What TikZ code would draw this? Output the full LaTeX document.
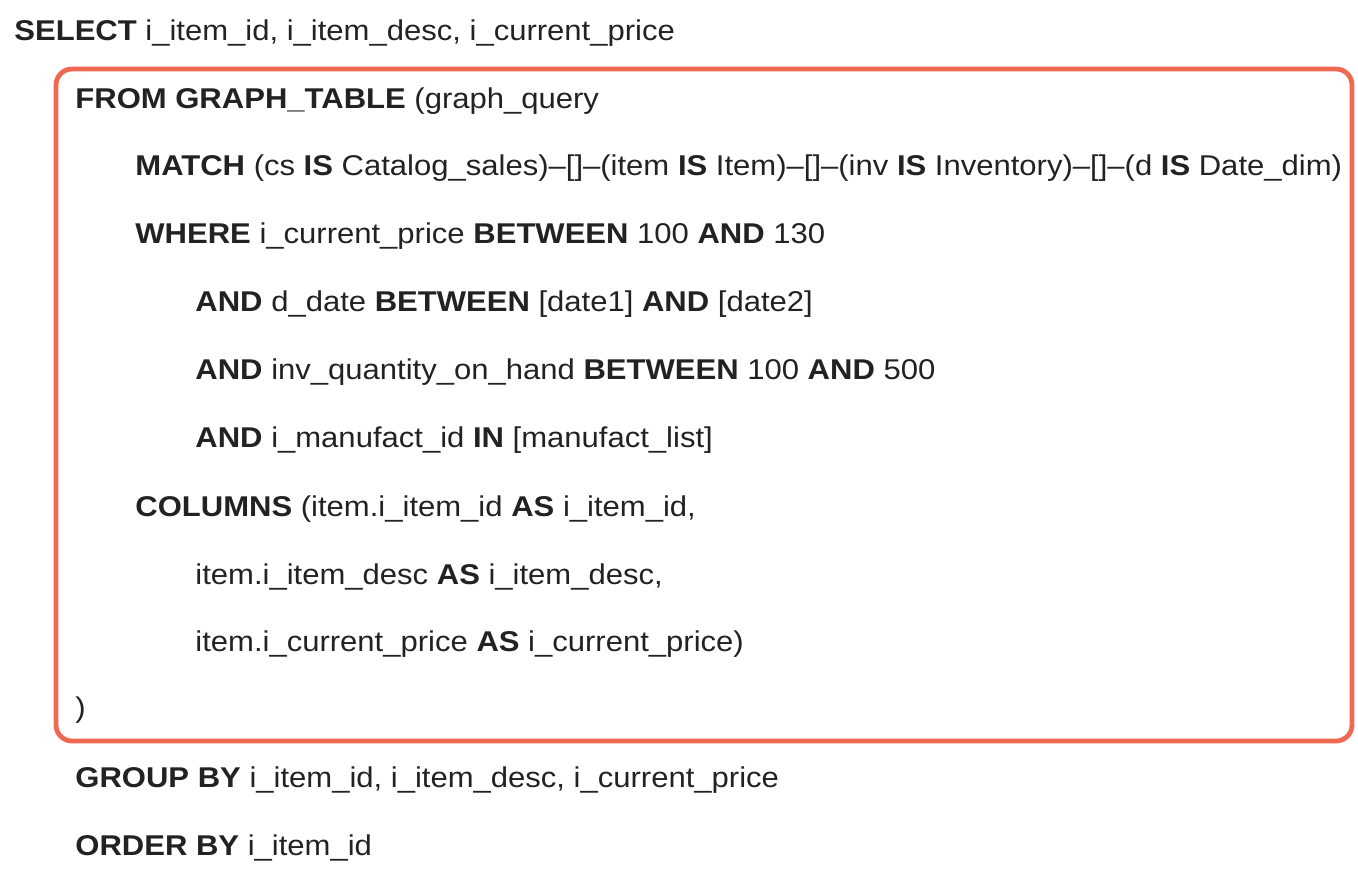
\documentclass[tikz,border=0pt]{standalone}
\usepackage{fontspec}
\setmainfont{Liberation Sans}[FakeStretch=1.085]
\definecolor{sqltext}{HTML}{222222}
\definecolor{frame}{HTML}{EE6852}
\newcommand{\kw}[1]{\textbf{#1}}
\begin{document}
\begin{tikzpicture}[x=0.5pt,y=-0.5pt,line join=round,line cap=round]
	\tikzset{every node/.style={anchor=base west,inner sep=0pt,text=sqltext,font=\fontsize{14.3pt}{16pt}\selectfont}}
	\useasboundingbox (0,0) rectangle (1358,876);
	% frame round the graph query
	\draw[frame,line width=2.4pt,rounded corners=8pt] (56,69) rectangle (1352,741);
	\node (sel) at (14,41) {\kw{SELECT} i\_item\_id, i\_item\_desc, i\_current\_price};
	\node (from) at (75,109) {\kw{FROM GRAPH\_TABLE} (graph\_query};
	\node (match) at (135,176) {\kw{MATCH} (cs \kw{IS} Catalog\_sales)–[]–(item \kw{IS} Item)–[]–(inv \kw{IS} Inventory)–[]–(d \kw{IS} Date\_dim)};
	\node (where) at (135,244) {\kw{WHERE} i\_current\_price \kw{BETWEEN} 100 \kw{AND} 130};
	\node (and1) at (195,312) {\kw{AND} d\_date \kw{BETWEEN} [date1] \kw{AND} [date2]};
	\node (and2) at (195,380) {\kw{AND} inv\_quantity\_on\_hand \kw{BETWEEN} 100 \kw{AND} 500};
	\node (and3) at (195,448) {\kw{AND} i\_manufact\_id \kw{IN} [manufact\_list]};
	\node (cols) at (135,516) {\kw{COLUMNS} (item.i\_item\_id \kw{AS} i\_item\_id,};
	\node (col2) at (195,584) {item.i\_item\_desc \kw{AS} i\_item\_desc,};
	\node (col3) at (195,651) {item.i\_current\_price \kw{AS} i\_current\_price)};
	\node (close) at (75,717) {)};
	\node (group) at (75,787) {\kw{GROUP BY} i\_item\_id, i\_item\_desc, i\_current\_price};
	\node (order) at (75,855) {\kw{ORDER BY} i\_item\_id};
\end{tikzpicture}
\end{document}
